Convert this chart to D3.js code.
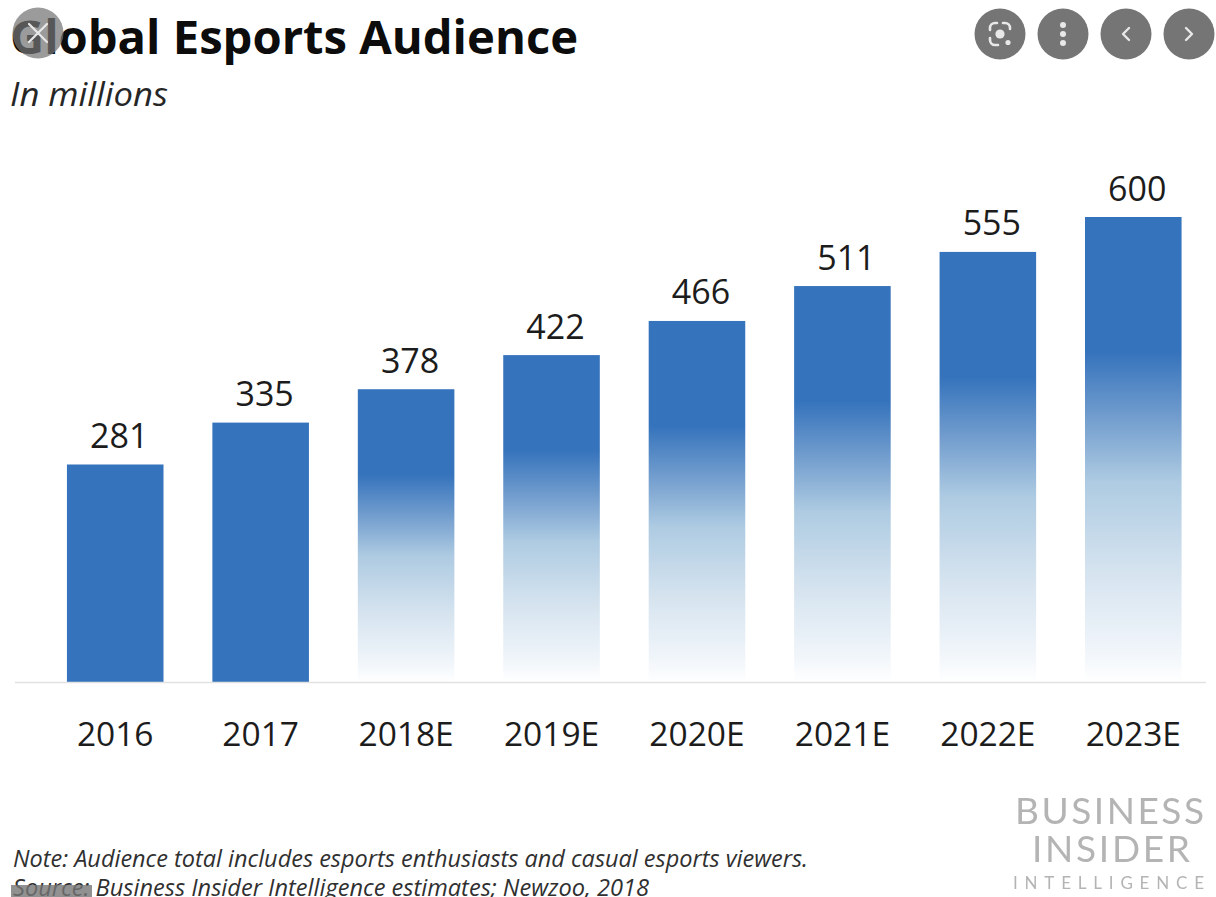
<!DOCTYPE html>
<html>
<head>
<meta charset="utf-8">
<script src="https://cdn.jsdelivr.net/npm/d3@7/dist/d3.min.js"></script>
<style>
html,body{margin:0;padding:0;background:#fff;overflow:hidden}
svg{display:block}
text{font-family:"Open Sans","Noto Sans",sans-serif}
</style>
</head>
<body>
<svg id="chart" width="1216" height="897"></svg>
<script>
const years = ["2016","2017","2018E","2019E","2020E","2021E","2022E","2023E"];
const audience = [281,335,378,422,466,511,555,600];
const estimated = [false,false,true,true,true,true,true,true];
const noteLine = "Note: Audience total includes esports enthusiasts and casual esports viewers.";
const sourceLine = "Source: Business Insider Intelligence estimates; Newzoo, 2018";
const brandLines = ["BUSINESS","INSIDER","INTELLIGENCE"];

const svg = d3.select("#chart");
const barBlue = "#3573bc";

// Vertical fade used by the forecast years
const defs = svg.append("defs");
const fade = defs.append("linearGradient").attr("id","fade").attr("x1",0).attr("y1",0).attr("x2",0).attr("y2",1);
[[0,barBlue],[0.29,barBlue],[0.44,"#76a0cf"],[0.57,"#aecbe2"],[0.76,"#d5e3ef"],[0.93,"#f0f5fa"],[1,"#ffffff"]]
  .forEach(([o,c])=>fade.append("stop").attr("offset",o).attr("stop-color",c));
defs.append("filter").attr("id","soft").append("feGaussianBlur").attr("stdDeviation",0.6);
defs.append("clipPath").attr("id","leftEdge").append("rect")
  .attr("x",11).attr("y",0).attr("width",400).attr("height",130);

const x = d3.scaleBand().domain(years).range([42.5,1206]).paddingInner(0.336).paddingOuter(0.168);
const y = d3.scaleLinear().domain([0,600]).range([682.5,217]);

// Bars
svg.append("g").selectAll("rect").data(years).join("rect")
  .attr("x",d=>x(d)).attr("width",x.bandwidth())
  .attr("y",(d,i)=>y(audience[i])).attr("height",(d,i)=>y(0)-y(audience[i]))
  .attr("fill",(d,i)=>estimated[i]?"url(#fade)":barBlue);

// Value labels, set slightly right of the bar centre
svg.append("g").selectAll("text").data(years).join("text")
  .attr("x",d=>x(d)+x.bandwidth()/2+4)
  .attr("y",(d,i)=>y(audience[i])-16.5)
  .attr("text-anchor","middle").attr("font-size",34).attr("fill","#1c1c1c")
  .text((d,i)=>audience[i]);

// Category axis
const axis = svg.append("g").attr("transform",`translate(0,${y(0)})`)
  .call(d3.axisBottom(x).tickSize(0).tickPadding(40));
axis.select(".domain").attr("stroke","#e2e2e2").attr("stroke-width",1.5)
  .attr("d","M15,0H1206");
axis.selectAll("text").attr("font-size",33.5).attr("fill","#1c1c1c")
  .style("font-family",'"Open Sans","Noto Sans",sans-serif');

// Headline
svg.append("text").attr("x",10).attr("y",54).attr("font-size",47).attr("font-weight",700)
  .attr("fill","#0c0c0c").attr("textLength",568).attr("lengthAdjust","spacingAndGlyphs").text("Global Esports Audience");
svg.append("g").attr("clip-path","url(#leftEdge)").append("text")
  .attr("x",10).attr("y",106).attr("font-size",32).attr("font-style","italic")
  .attr("fill","#262626").attr("textLength",158).attr("lengthAdjust","spacingAndGlyphs").text("In millions");

// Footnotes
svg.append("text").attr("x",13).attr("y",867).attr("font-size",23).attr("font-style","italic")
  .attr("fill","#303030").attr("textLength",795).attr("lengthAdjust","spacingAndGlyphs").text(noteLine);
svg.append("text").attr("x",13).attr("y",896).attr("font-size",23).attr("font-style","italic")
  .attr("fill","#303030").attr("textLength",636).attr("lengthAdjust","spacingAndGlyphs").text(sourceLine);

// Brand mark
const brand = svg.append("g").attr("fill","#b4b4b4").attr("filter","url(#soft)");
brand.append("text").attr("x",1015).attr("y",824).attr("font-size",37).attr("textLength",189).text(brandLines[0]).style("font-family","Lato");
brand.append("text").attr("x",1032).attr("y",862).attr("font-size",37).attr("textLength",158).text(brandLines[1]).style("font-family","Lato");
brand.append("text").attr("x",1013).attr("y",889).attr("font-size",17).attr("textLength",191).text(brandLines[2]).style("font-family","Lato");

// Viewer controls sitting over the image
const chrome = svg.append("g");
const grey = "#757575", pale = "#e8e8e8";
const disc = (cx,cy,opacity=1) => chrome.append("circle").attr("cx",cx).attr("cy",cy).attr("r",25.5).attr("fill",grey).attr("fill-opacity",opacity);
const stroke = (d,w) => chrome.append("path").attr("d",d).attr("fill","none").attr("stroke",pale).attr("stroke-width",w).attr("stroke-linecap","round").attr("stroke-linejoin","round");

disc(38,33,0.72);
stroke("M29,24L47,42M47,24L29,42",2.2);

disc(1000,34);
stroke("M990,30v-2a5,5 0 0 1 5,-5h2M1003,23h2a5,5 0 0 1 5,5v1M990,38v2a5,5 0 0 0 5,5h3",2.6);
chrome.append("circle").attr("cx",1000).attr("cy",34).attr("r",4.6).attr("fill",pale);
chrome.append("circle").attr("cx",1008).attr("cy",42.5).attr("r",2.6).attr("fill",pale);

disc(1063,34);
[25,34,43].forEach(cy=>chrome.append("circle").attr("cx",1063).attr("cy",cy).attr("r",3).attr("fill",pale));

disc(1126,34);
stroke("M1129,28L1123,34L1129,40",2.4);
disc(1189,34);
stroke("M1186,28L1192,34L1186,40",2.4);

// Grey strip over the start of the source line
chrome.append("rect").attr("x",11).attr("y",885).attr("width",81).attr("height",12).attr("fill",grey).attr("fill-opacity",0.8);
</script>
</body>
</html>
